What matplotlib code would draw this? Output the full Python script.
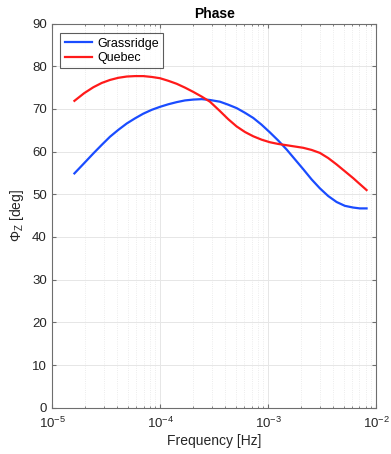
import matplotlib
matplotlib.use("Agg")
import matplotlib.pyplot as plt
from matplotlib.ticker import LogLocator, NullFormatter, FixedLocator

plt.rcParams['font.family'] = ['Liberation Sans', 'DejaVu Sans']
plt.rcParams['mathtext.fontset'] = 'custom'
plt.rcParams['mathtext.rm'] = 'Liberation Sans'
plt.rcParams['mathtext.it'] = 'Liberation Sans'

freq = [1.60e-5, 1.97e-5, 2.40e-5, 2.87e-5, 3.42e-5, 4.08e-5, 4.89e-5, 5.83e-5,
        6.96e-5, 8.33e-5, 9.94e-5, 1.186e-4, 1.418e-4, 1.693e-4, 2.02e-4,
        2.416e-4, 2.885e-4, 3.57e-4, 4.26e-4, 5.10e-4, 6.09e-4, 7.26e-4,
        8.69e-4, 1.037e-3, 1.238e-3, 1.481e-3, 1.767e-3, 2.109e-3, 2.522e-3,
        3.011e-3, 3.594e-3, 4.30e-3, 5.13e-3, 6.12e-3, 7.06e-3, 8.15e-3]
grassridge = [54.9, 57.3, 59.6, 61.6, 63.5, 65.1, 66.6, 67.8, 68.9, 69.8, 70.5,
              71.1, 71.6, 72.0, 72.2, 72.3, 72.1, 71.7, 71.0, 70.2, 69.1, 67.9,
              66.3, 64.5, 62.6, 60.5, 58.2, 55.9, 53.5, 51.4, 49.6, 48.2, 47.3,
              46.9, 46.7, 46.7]
quebec = [71.9, 73.7, 75.1, 76.1, 76.8, 77.3, 77.6, 77.7, 77.7, 77.5, 77.2,
          76.6, 75.9, 75.0, 74.0, 72.9, 71.7, 69.5, 67.6, 65.9, 64.6, 63.6,
          62.8, 62.2, 61.8, 61.5, 61.2, 60.9, 60.4, 59.7, 58.5, 57.0, 55.4,
          53.8, 52.4, 51.0]

series_names = ["Grassridge", "Quebec"]
title = "Phase"
xlabel = "Frequency [Hz]"
ylabel = r"$\Phi_Z$ [deg]"
yticks = [0, 10, 20, 30, 40, 50, 60, 70, 80, 90]

fig = plt.figure(figsize=(3.91, 4.54), dpi=100)
ax = fig.add_axes([0.134, 0.102, 0.828, 0.846])

ax.plot(freq, grassridge, color='#1a4cff', lw=1.6, label=series_names[0])
ax.plot(freq, quebec, color='#ff1a1a', lw=1.6, label=series_names[1])

ax.set_xscale('log')
ax.set_xlim(1e-5, 1e-2)
ax.set_ylim(0, 90)
ax.set_yticks(yticks)
ax.xaxis.set_major_locator(FixedLocator([1e-5, 1e-4, 1e-3, 1e-2]))
ax.xaxis.set_minor_locator(LogLocator(base=10, subs=range(2, 10)))
ax.xaxis.set_minor_formatter(NullFormatter())

ax.grid(True, which='major', color='#e6e6e6', lw=0.7, ls='-')
ax.grid(True, which='minor', axis='x', color='#e6e6e6', lw=0.6, ls=':')
ax.set_axisbelow(True)

for s in ax.spines.values():
    s.set_color('#6e6e6e')
    s.set_linewidth(0.8)
ax.tick_params(which='both', direction='in', top=True, right=True,
               colors='#6e6e6e', labelcolor='#262626', labelsize=9.5)
ax.tick_params(which='major', length=3)
ax.tick_params(which='minor', length=1.5)
ax.tick_params(axis='x', which='major', pad=6)
ax.tick_params(axis='y', which='major', pad=4)

ax.set_title(title, fontsize=10, fontweight='bold', pad=4)
ax.set_xlabel(xlabel, fontsize=10, color='#262626', labelpad=2)
ax.set_ylabel(ylabel, fontsize=10, color='#262626', labelpad=4)

leg = ax.legend(loc='upper left', bbox_to_anchor=(0.025, 0.975), fontsize=9,
                frameon=True, fancybox=False, edgecolor='#333333',
                handlelength=2.2, handletextpad=0.4, borderpad=0.35,
                labelspacing=0.2, borderaxespad=0)
leg.get_frame().set_linewidth(0.8)

fig.savefig("out.png", dpi=100, facecolor='white')
